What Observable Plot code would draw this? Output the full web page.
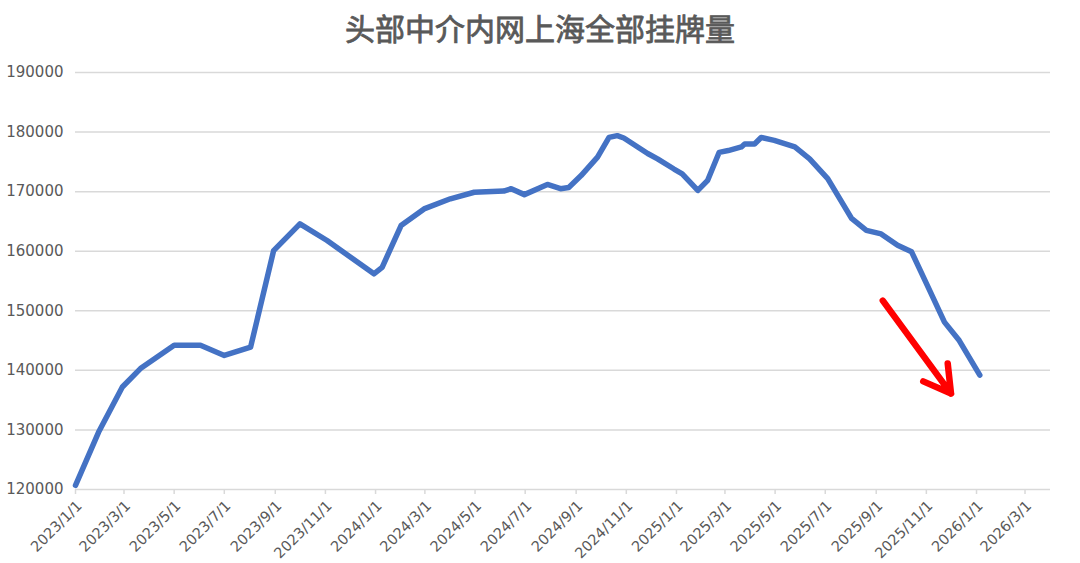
<!DOCTYPE html>
<html><head><meta charset="utf-8">
<script src="https://cdn.jsdelivr.net/npm/d3@7"></script>
<script src="https://cdn.jsdelivr.net/npm/@observablehq/plot@0.6"></script>
<style>
body{margin:0;background:#fff;}
#title{height:52px;line-height:54px;text-align:center;font-family:"Noto Sans CJK SC";font-size:30px;font-weight:normal;color:#595959;-webkit-text-stroke:0.8px #595959;}
</style></head><body>
<div id="title">头部中介内网上海全部挂牌量</div>
<div id="chart"></div>
<script>
const dates = ["2023-01-01","2023-01-29","2023-02-27","2023-03-21","2023-05-01","2023-06-02","2023-07-01","2023-08-02","2023-08-30","2023-10-01","2023-11-03","2023-12-30","2024-01-09","2024-02-01","2024-02-29","2024-04-01","2024-04-30","2024-06-05","2024-06-14","2024-06-30","2024-07-28","2024-08-13","2024-08-23","2024-09-07","2024-09-27","2024-10-11","2024-10-21","2024-10-29","2024-11-27","2024-12-09","2024-12-29","2025-01-08","2025-01-27","2025-02-08","2025-02-22","2025-03-05","2025-03-21","2025-03-25","2025-04-06","2025-04-14","2025-04-30","2025-05-25","2025-06-12","2025-07-04","2025-08-02","2025-08-20","2025-09-07","2025-09-27","2025-10-14","2025-11-03","2025-11-23","2025-12-11","2026-01-05"];
const listings = [120700,129600,137200,140300,144200,144200,142500,143900,160100,164600,161800,156200,157300,164300,167100,168800,169900,170100,170500,169500,171200,170500,170700,172700,175800,179100,179400,179000,176400,175500,173800,173000,170200,171900,176600,176900,177500,178000,178000,179100,178600,177500,175500,172200,165500,163500,162900,161000,159900,154000,148100,145000,139200];
const xTickLabels = ["2023/1/1","2023/3/1","2023/5/1","2023/7/1","2023/9/1","2023/11/1","2024/1/1","2024/3/1","2024/5/1","2024/7/1","2024/9/1","2024/11/1","2025/1/1","2025/3/1","2025/5/1","2025/7/1","2025/9/1","2025/11/1","2026/1/1","2026/3/1"];
const yTicks = [120000,130000,140000,150000,160000,170000,180000,190000];
const arrowFrom = ["2025-09-09", 151700];
const arrowTo = ["2025-12-01", 136100];

const parseSlash = s => { const [y,m,d] = s.split("/").map(Number); return new Date(Date.UTC(y, m-1, d)); };
const xTickDates = xTickLabels.map(parseSlash);
const labelOf = new Map(xTickDates.map((d,i)=>[+d, xTickLabels[i]]));
const data = dates.map((d,i)=>({date:new Date(d), value:listings[i]}));
const arrows = [{x1:new Date(arrowFrom[0]), y1:arrowFrom[1], x2:new Date(arrowTo[0]), y2:arrowTo[1]}];

const chart = Plot.plot({
  width:1080, height:511,
  marginTop:20, marginBottom:74, marginLeft:75, marginRight:30,
  x:{type:"utc", domain:[new Date("2023-01-01"), new Date("2026-04-01")], label:null},
  y:{domain:[120000,190000], label:null},
  style:{fontFamily:"DejaVu Sans", fontSize:"15px", color:"#595959", background:"#fff"},
  marks:[
    Plot.gridY(yTicks, {stroke:"#d9d9d9", strokeOpacity:1, strokeWidth:1.5}),
    Plot.axisY(yTicks, {tickSize:0, tickPadding:12, tickFormat:d=>String(d), fill:"#595959", fontSize:15}),
    Plot.axisX(xTickDates, {tickSize:5, text:null, stroke:"#d9d9d9", strokeWidth:1.5, strokeOpacity:1}),
    Plot.axisX(xTickDates, {tickSize:0, tickPadding:14, dx:4, tickRotate:-45, tickFormat:d=>labelOf.get(+d), fill:"#595959", fontSize:14.5}),
    Plot.line(data, {x:"date", y:"value", stroke:"#4472C4", strokeWidth:5.5, strokeLinejoin:"round", strokeLinecap:"round"}),
    Plot.arrow(arrows, {x1:"x1", y1:"y1", x2:"x2", y2:"y2", stroke:"#ff0000", strokeWidth:6.5, headLength:7, headAngle:60})
  ]
});
document.getElementById("chart").appendChild(chart);
</script>
</body></html>
